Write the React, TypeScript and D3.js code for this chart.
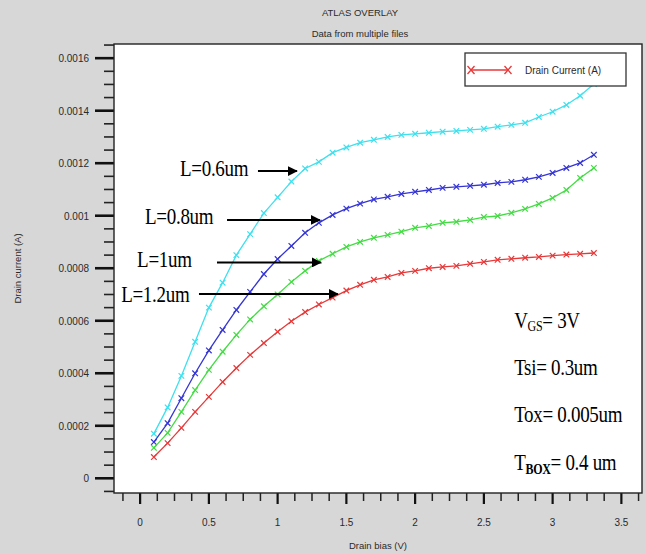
import React, { useEffect, useRef } from "react";
import * as d3 from "d3";

// drain bias sweep (V)
const bias = [
  0.1, 0.2, 0.3, 0.4, 0.5, 0.6, 0.7, 0.8, 0.9, 1.0, 1.1, 1.2, 1.3, 1.4, 1.5, 1.6, 1.7,
  1.8, 1.9, 2.0, 2.1, 2.2, 2.3, 2.4, 2.5, 2.6, 2.7, 2.8, 2.9, 3.0, 3.1, 3.2, 3.3,
];

// drain current (A), one list per gate length
const idL06 = [
  0.00017, 0.00027, 0.00039, 0.00052, 0.00065, 0.000745, 0.00085, 0.00093, 0.00101,
  0.00107, 0.00113, 0.00118, 0.001205, 0.00124, 0.00126, 0.001278, 0.001289, 0.0013,
  0.001308, 0.001312, 0.001316, 0.00132, 0.001323, 0.001327, 0.001331, 0.001339,
  0.001346, 0.001354, 0.001376, 0.001396, 0.001422, 0.001457, 0.001502,
];
const idL08 = [
  0.000138, 0.00021, 0.000305, 0.0004, 0.000487, 0.000565, 0.000641, 0.00071, 0.000778,
  0.000835, 0.000885, 0.000935, 0.000973, 0.001003, 0.001027, 0.001046, 0.001062,
  0.001072, 0.001083, 0.001091, 0.001098, 0.001106, 0.00111, 0.001114, 0.001118,
  0.001125, 0.001129, 0.001137, 0.001148, 0.001163, 0.001182, 0.001201, 0.001232,
];
const idL10 = [
  0.000116, 0.000173, 0.000253, 0.000336, 0.000413, 0.000482, 0.000546, 0.000605,
  0.000655, 0.0007, 0.000748, 0.00079, 0.000828, 0.000855, 0.000881, 0.0009, 0.000916,
  0.000927, 0.000939, 0.000954, 0.000961, 0.000973, 0.000977, 0.000984, 0.000995,
  0.000999, 0.001011, 0.001026, 0.001045, 0.001068, 0.001098, 0.001144, 0.001182,
];
const idL12 = [
  0.000081, 0.000134, 0.000192, 0.000253, 0.00031, 0.000367, 0.00042, 0.00047, 0.000515,
  0.000558, 0.000598, 0.000633, 0.000662, 0.000688, 0.000715, 0.000737, 0.000756,
  0.000767, 0.000782, 0.00079, 0.0008, 0.000805, 0.000809, 0.000817, 0.000824, 0.000832,
  0.000836, 0.00084, 0.000843, 0.000848, 0.000852, 0.000855, 0.000858,
];

const seriesColors = ["#3ee0ee", "#3535d6", "#44dc44", "#e83838"];

const xTicks = [0, 0.5, 1, 1.5, 2, 2.5, 3, 3.5];
const xTickLabels = ["0", "0.5", "1", "1.5", "2", "2.5", "3", "3.5"];
const yTicks = [0, 0.0002, 0.0004, 0.0006, 0.0008, 0.001, 0.0012, 0.0014, 0.0016];
const yTickLabels = ["0", "0.0002", "0.0004", "0.0006", "0.0008", "0.001", "0.0012", "0.0014", "0.0016"];

// arrow labels in data units: text start, text baseline, arrow from/to, arrow level
const lenLabels = ["L=0.6um", "L=0.8um", "L=1um", "L=1.2um"];
const lenTextX = [0.29, 0.036, -0.022, -0.138];
const lenTextY = [0.00115, 0.00097, 0.000806, 0.00067];
const arrowFrom = [0.857, 0.632, 0.559, 0.428];
const arrowTo = [1.14, 1.307, 1.314, 1.438];
const arrowY = [0.00117, 0.000984, 0.000822, 0.000702];

// device parameters on the right
const paramY = [0.000573, 0.000392, 0.000214, 0.000031];

const W = 646;
const H = 554;

const App = () => {
  const svgRef = useRef<SVGSVGElement>(null);

  useEffect(() => {
    const svg = d3.select(svgRef.current);
    svg.selectAll("*").remove();

    const left = 114, right = 642, top = 44, bottom = 493;
    const x = d3.scaleLinear().domain([-0.19, 3.65]).range([left, right]);
    const y = d3.scaleLinear().domain([-0.000056, 0.001654]).range([bottom, top]);

    svg.append("rect").attr("width", W).attr("height", H).attr("fill", "#d7d7d7");
    svg.append("rect")
      .attr("x", left).attr("y", top)
      .attr("width", right - left).attr("height", bottom - top)
      .attr("fill", "#fff");

    const sans = "Arial, 'Liberation Sans', sans-serif";
    const serif = "'Times New Roman', 'Liberation Serif', serif";

    // titles
    svg.append("text").attr("x", 360).attr("y", 16).attr("text-anchor", "middle")
      .attr("font-family", sans).attr("font-size", 9.5).attr("fill", "#2a2a2a")
      .text("ATLAS OVERLAY");
    svg.append("text").attr("x", 360).attr("y", 37).attr("text-anchor", "middle")
      .attr("font-family", sans).attr("font-size", 9.5).attr("fill", "#2a2a2a")
      .text("Data from multiple files");

    // y axis: minor + major ticks
    const yMinor = d3.range(-1, 34).map((i) => i * 0.00005).filter((_, i) => (i - 1) % 4 !== 0);
    svg.append("g").selectAll("line").data(yMinor).enter().append("line")
      .attr("x1", left - 10).attr("x2", left)
      .attr("y1", (d) => y(d)).attr("y2", (d) => y(d))
      .attr("stroke", "#222").attr("stroke-width", 1.6);
    svg.append("g").selectAll("line").data(yTicks).enter().append("line")
      .attr("x1", left - 19).attr("x2", left)
      .attr("y1", (d) => y(d)).attr("y2", (d) => y(d))
      .attr("stroke", "#111").attr("stroke-width", 2.6);
    svg.append("g").selectAll("text").data(yTicks).enter().append("text")
      .attr("transform", (d) => `translate(89,${y(d) + 4}) scale(1,1.15)`)
      .attr("text-anchor", "end")
      .attr("font-family", sans).attr("font-size", 10).attr("fill", "#2a2a2a")
      .text((_, i) => yTickLabels[i]);

    // x axis: minor + major ticks
    const xMinor = d3.range(-1, 30).map((i) => i * 0.125).filter((_, i) => (i - 1) % 4 !== 0);
    svg.append("g").selectAll("line").data(xMinor).enter().append("line")
      .attr("x1", (d) => x(d)).attr("x2", (d) => x(d))
      .attr("y1", bottom).attr("y2", bottom + 8)
      .attr("stroke", "#222").attr("stroke-width", 1.5);
    svg.append("g").selectAll("line").data(xTicks).enter().append("line")
      .attr("x1", (d) => x(d)).attr("x2", (d) => x(d))
      .attr("y1", bottom).attr("y2", bottom + 11)
      .attr("stroke", "#111").attr("stroke-width", 2.2);
    svg.append("g").selectAll("text").data(xTicks).enter().append("text")
      .attr("transform", (d) => `translate(${x(d)},526) scale(1,1.15)`)
      .attr("text-anchor", "middle")
      .attr("font-family", sans).attr("font-size", 10).attr("fill", "#2a2a2a")
      .text((_, i) => xTickLabels[i]);

    // axis titles
    svg.append("text").attr("x", (left + right) / 2).attr("y", 549)
      .attr("text-anchor", "middle")
      .attr("font-family", sans).attr("font-size", 9.5).attr("fill", "#2a2a2a")
      .text("Drain bias (V)");
    svg.append("text")
      .attr("transform", `translate(21,${(top + bottom) / 2}) rotate(-90)`)
      .attr("text-anchor", "middle")
      .attr("font-family", sans).attr("font-size", 9.5).attr("fill", "#2a2a2a")
      .text("Drain current (A)");

    // curves
    const line = d3.line<number>().x((_, i) => x(bias[i])).y((d) => y(d));
    const allSeries = [idL06, idL08, idL10, idL12];
    allSeries.forEach((vals, s) => {
      const col = seriesColors[s];
      svg.append("path").datum(vals)
        .attr("d", line).attr("fill", "none")
        .attr("stroke", col).attr("stroke-width", 1.3);
      const m = 2.8;
      svg.append("g").selectAll("path").data(vals).enter().append("path")
        .attr("d", (d, i) => {
          const px = x(bias[i]), py = y(d);
          return `M${px - m},${py - m}L${px + m},${py + m}M${px - m},${py + m}L${px + m},${py - m}`;
        })
        .attr("stroke", col).attr("stroke-width", 1.2).attr("fill", "none");
    });

    // legend
    svg.append("rect").attr("x", 465).attr("y", 53).attr("width", 161).attr("height", 33)
      .attr("fill", "#fff").attr("stroke", "#333").attr("stroke-width", 1.3);
    svg.append("line").attr("x1", 471).attr("x2", 508).attr("y1", 70).attr("y2", 70)
      .attr("stroke", "#e83838").attr("stroke-width", 1.3);
    [471, 508].forEach((px) => {
      svg.append("path")
        .attr("d", `M${px - 3.5},${66}L${px + 3.5},${74}M${px - 3.5},${74}L${px + 3.5},${66}`)
        .attr("stroke", "#e83838").attr("stroke-width", 1.3);
    });
    svg.append("text").attr("x", 525).attr("y", 74)
      .attr("font-family", sans).attr("font-size", 10).attr("fill", "#2a2a2a")
      .text("Drain Current (A)");

    // arrow annotations
    const defs = svg.append("defs");
    defs.append("marker").attr("id", "ah").attr("viewBox", "0 0 10 10")
      .attr("refX", 9).attr("refY", 5).attr("markerWidth", 5).attr("markerHeight", 5)
      .attr("markerUnits", "strokeWidth").attr("orient", "auto")
      .append("path").attr("d", "M0,0L10,5L0,10Z").attr("fill", "#000");
    lenLabels.forEach((lab, i) => {
      svg.append("text")
        .attr("transform", `translate(${x(lenTextX[i])},${y(lenTextY[i])}) scale(1,1.2)`)
        .attr("font-family", serif).attr("font-size", 19).attr("fill", "#000")
        .attr("letter-spacing", -0.3)
        .text(lab);
      svg.append("line")
        .attr("x1", x(arrowFrom[i])).attr("x2", x(arrowTo[i]))
        .attr("y1", y(arrowY[i])).attr("y2", y(arrowY[i]))
        .attr("stroke", "#000").attr("stroke-width", 2)
        .attr("marker-end", "url(#ah)");
    });

    // device parameters
    const px0 = x(2.72);
    const param = (i: number) =>
      svg.append("text")
        .attr("transform", `translate(${px0},${y(paramY[i])}) scale(1,1.2)`)
        .attr("font-family", serif).attr("font-size", 19).attr("fill", "#000")
        .attr("letter-spacing", -0.3);
    const t1 = param(0);
    t1.append("tspan").text("V");
    t1.append("tspan").attr("font-size", 12).attr("dy", 3).text("GS");
    t1.append("tspan").attr("dy", -3).text("= 3V");
    param(1).text("Tsi= 0.3um");
    param(2).text("Tox= 0.005um");
    const t4 = param(3);
    t4.append("tspan").text("T");
    t4.append("tspan").attr("font-size", 12).attr("font-weight", "bold").attr("dy", 3).text("BOX");
    t4.append("tspan").attr("dy", -3).text("= 0.4 um");

    // plot frame
    svg.append("rect")
      .attr("x", left).attr("y", top)
      .attr("width", right - left).attr("height", bottom - top)
      .attr("fill", "none").attr("stroke", "#222").attr("stroke-width", 1.4);
  }, []);

  return (
    <svg
      ref={svgRef}
      width={W}
      height={H}
      style={{ position: "absolute", left: 0, top: 0 }}
    ></svg>
  );
};

export default App;
